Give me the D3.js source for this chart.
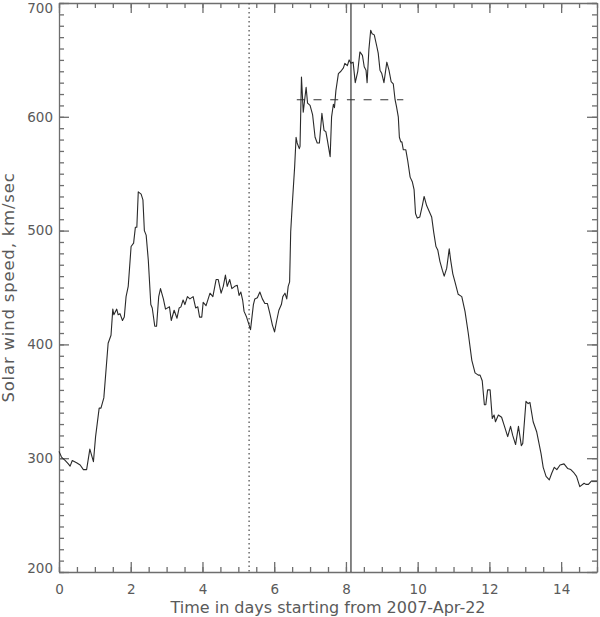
<!DOCTYPE html>
<html>
<head>
<meta charset="utf-8" />
<title>Solar wind speed</title>
<style>
body { margin: 0; background: #fff; }
text { font-family: "DejaVu Sans", sans-serif; fill: #5a5a5a; }
</style>
</head>
<body>
<div id="chart"></div>
<script src="https://d3js.org/d3.v7.min.js"></script>
<script>
(function(d3) {
	'use strict';

	// time in days since 2007-Apr-22
	var days = [0.00, 0.07, 0.17, 0.26, 0.31, 0.37, 0.49, 0.59, 0.68, 0.77,
		0.86, 0.96, 1.02, 1.12, 1.17, 1.25, 1.37, 1.45, 1.50, 1.53,
		1.61, 1.65, 1.70, 1.77, 1.82, 1.87, 1.93, 2.01, 2.08, 2.13,
		2.17, 2.21, 2.29, 2.34, 2.38, 2.43, 2.49, 2.56, 2.60, 2.67,
		2.72, 2.78, 2.83, 2.91, 2.97, 3.08, 3.13, 3.21, 3.29, 3.35,
		3.40, 3.46, 3.51, 3.58, 3.65, 3.74, 3.81, 3.87, 3.92, 3.98,
		4.02, 4.10, 4.21, 4.29, 4.38, 4.44, 4.52, 4.58, 4.64, 4.69,
		4.76, 4.82, 4.90, 4.97, 5.02, 5.07, 5.12, 5.16, 5.23, 5.29,
		5.34, 5.42, 5.46, 5.53, 5.60, 5.67, 5.74, 5.81, 5.88, 5.95,
		6.01, 6.07, 6.13, 6.20, 6.24, 6.30, 6.35, 6.39, 6.43, 6.46,
		6.50, 6.57, 6.61, 6.64, 6.70, 6.72, 6.76, 6.81, 6.89, 6.93,
		7.00, 7.07, 7.14, 7.20, 7.26, 7.33, 7.39, 7.44, 7.48, 7.56,
		7.60, 7.65, 7.68, 7.72, 7.79, 7.86, 7.93, 7.97, 8.04, 8.09,
		8.14, 8.20, 8.26, 8.33, 8.39, 8.46, 8.51, 8.56, 8.59, 8.64,
		8.69, 8.73, 8.79, 8.86, 8.90, 8.95, 9.00, 9.06, 9.14, 9.20,
		9.26, 9.32, 9.37, 9.41, 9.46, 9.49, 9.53, 9.56, 9.60, 9.67,
		9.72, 9.79, 9.85, 9.90, 9.94, 9.99, 10.06, 10.13, 10.18, 10.25,
		10.32, 10.39, 10.45, 10.51, 10.56, 10.62, 10.69, 10.74, 10.81, 10.88,
		10.92, 10.98, 11.04, 11.13, 11.23, 11.32, 11.41, 11.51, 11.60, 11.69,
		11.74, 11.80, 11.86, 11.90, 11.95, 12.02, 12.08, 12.13, 12.17, 12.25,
		12.34, 12.41, 12.51, 12.59, 12.65, 12.73, 12.81, 12.89, 12.93, 13.02,
		13.08, 13.13, 13.22, 13.32, 13.44, 13.50, 13.58, 13.67, 13.74, 13.81,
		13.88, 13.97, 14.08, 14.18, 14.27, 14.36, 14.43, 14.52, 14.64, 14.69,
		14.76, 14.85, 15.00];

	// solar wind speed, km/sec
	var speed = [306, 301, 298, 295, 293, 298, 296, 294, 290, 290,
		308, 297, 319, 344, 344, 353, 401, 408, 431, 426,
		431, 426, 427, 421, 424, 442, 451, 486, 489, 503,
		503, 534, 532, 527, 500, 496, 474, 435, 432, 416,
		416, 442, 449, 440, 431, 433, 421, 430, 423, 432,
		433, 439, 435, 442, 440, 442, 432, 433, 424, 424,
		437, 434, 445, 442, 457, 457, 445, 451, 461, 451,
		457, 449, 451, 452, 443, 446, 439, 429, 424, 418,
		413, 435, 440, 441, 446, 440, 436, 436, 427, 417,
		411, 421, 430, 435, 442, 445, 440, 451, 455, 499,
		521, 556, 582, 577, 572, 574, 635, 604, 626, 612,
		610, 602, 582, 577, 577, 603, 588, 587, 580, 565,
		600, 611, 608, 623, 638, 640, 643, 647, 645, 650,
		647, 648, 630, 640, 657, 654, 644, 641, 630, 659,
		676, 673, 672, 662, 656, 641, 638, 630, 648, 641,
		631, 629, 615, 609, 600, 582, 578, 578, 571, 571,
		562, 547, 543, 536, 515, 511, 512, 522, 530, 522,
		517, 512, 498, 486, 483, 473, 465, 460, 467, 484,
		474, 462, 455, 444, 442, 429, 410, 386, 375, 373,
		373, 368, 347, 347, 360, 360, 335, 338, 332, 338,
		336, 329, 319, 328, 320, 312, 328, 311, 313, 350,
		348, 349, 332, 323, 304, 292, 284, 281, 287, 292,
		290, 294, 295, 291, 290, 287, 284, 275, 278, 277,
		277, 280, 280];

	var xTicks = [0, 2, 4, 6, 8, 10, 12, 14];
	var yTicks = [200, 300, 400, 500, 600, 700];

	// markers
	var dottedDay = 5.30;
	var solidDay = 8.14;
	var meanSpeed = 615;
	var meanRange = [6.63, 9.60];

	var width = 600;
	var height = 617;
	var margin = { top: 3, right: 3, bottom: 45, left: 59 };

	var x = d3.scaleLinear().domain([0, 15])
		.range([margin.left, width - margin.right]);
	var y = d3.scaleLinear().domain([200, 700])
		.range([height - margin.bottom, margin.top]);

	var svg = d3.select('#chart').append('svg')
		.attr('width', width).attr('height', height);

	var axisColor = '#6e6e6e';
	var minorX = d3.range(0, 15.01, 0.5);
	var minorY = d3.range(200, 701, 10);

	function styleAxis(g) {
		g.selectAll('path, line').attr('stroke', axisColor).attr('stroke-width', 1.3);
		g.selectAll('text').attr('fill', '#5a5a5a')
			.style('font-size', '13.5px')
			.style('font-family', '"DejaVu Sans", sans-serif');
	}

	// bottom axis
	svg.append('g').attr('transform', 'translate(0,' + y(200) + ')')
		.call(d3.axisBottom(x).tickValues(minorX).tickSize(-5).tickFormat('').tickSizeOuter(0))
		.call(styleAxis);
	svg.append('g').attr('transform', 'translate(0,' + y(200) + ')')
		.call(d3.axisBottom(x).tickValues(xTicks).tickSize(-10).tickPadding(12).tickSizeOuter(0))
		.call(styleAxis)
		.call(function(g) { g.select('.domain').remove(); });

	// top axis
	svg.append('g').attr('transform', 'translate(0,' + y(700) + ')')
		.call(d3.axisTop(x).tickValues(minorX).tickSize(-5).tickFormat('').tickSizeOuter(0))
		.call(styleAxis);
	svg.append('g').attr('transform', 'translate(0,' + y(700) + ')')
		.call(d3.axisTop(x).tickValues(xTicks).tickSize(-10).tickFormat('').tickSizeOuter(0))
		.call(styleAxis)
		.call(function(g) { g.select('.domain').remove(); });

	// left axis
	svg.append('g').attr('transform', 'translate(' + x(0) + ',0)')
		.call(d3.axisLeft(y).tickValues(minorY).tickSize(-5).tickFormat('').tickSizeOuter(0))
		.call(styleAxis);
	svg.append('g').attr('transform', 'translate(' + x(0) + ',0)')
		.call(d3.axisLeft(y).tickValues(yTicks).tickSize(-10).tickPadding(6).tickSizeOuter(0))
		.call(styleAxis)
		.call(function(g) {
			g.select('.domain').remove();
			// end labels are kept inside the axis range
			g.selectAll('.tick text').attr('dy', function(d) {
				if (d === 700) return '0.71em';
				if (d === 200) return '0em';
				return '0.32em';
			});
		});

	// right axis
	svg.append('g').attr('transform', 'translate(' + x(15) + ',0)')
		.call(d3.axisRight(y).tickValues(minorY).tickSize(-5).tickFormat('').tickSizeOuter(0))
		.call(styleAxis);
	svg.append('g').attr('transform', 'translate(' + x(15) + ',0)')
		.call(d3.axisRight(y).tickValues(yTicks).tickSize(-10).tickFormat('').tickSizeOuter(0))
		.call(styleAxis)
		.call(function(g) { g.select('.domain').remove(); });

	// vertical markers
	svg.append('line')
		.attr('x1', x(dottedDay)).attr('x2', x(dottedDay))
		.attr('y1', y(700)).attr('y2', y(200))
		.attr('stroke', '#555').attr('stroke-width', 1.3)
		.attr('stroke-dasharray', '1.5,3');
	svg.append('line')
		.attr('x1', x(solidDay)).attr('x2', x(solidDay))
		.attr('y1', y(700)).attr('y2', y(200))
		.attr('stroke', '#444').attr('stroke-width', 1.3);

	// mean speed dashed line
	svg.append('line')
		.attr('x1', x(meanRange[0])).attr('x2', x(meanRange[1]))
		.attr('y1', y(meanSpeed)).attr('y2', y(meanSpeed))
		.attr('stroke', '#333').attr('stroke-width', 1.2)
		.attr('stroke-dasharray', '8,8.7');

	var data = days.map(function(d, i) { return { t: d, v: speed[i] }; });

	var line = d3.line()
		.x(function(d) { return x(d.t); })
		.y(function(d) { return y(d.v); });

	svg.append('path').datum(data)
		.attr('d', line)
		.attr('fill', 'none')
		.attr('stroke', '#2a2a2a')
		.attr('stroke-width', 1.1)
		.attr('stroke-linejoin', 'round');

	// axis titles
	svg.append('text')
		.attr('x', (x(0) + x(15)) / 2).attr('y', 613)
		.attr('text-anchor', 'middle')
		.style('font-size', '16px')
		.text('Time in days starting from 2007-Apr-22');

	svg.append('text')
		.attr('transform', 'translate(14,' + ((y(200) + y(700)) / 2) + ') rotate(-90)')
		.attr('text-anchor', 'middle')
		.style('font-size', '16.5px')
		.style('letter-spacing', '0.8px')
		.text('Solar wind speed, km/sec');

})(window.d3);
</script>
</body>
</html>
